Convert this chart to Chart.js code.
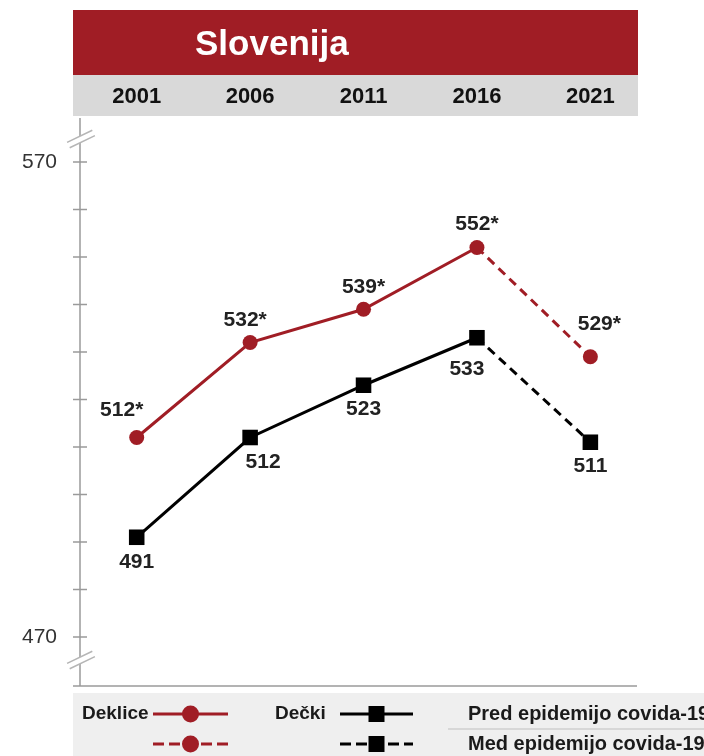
<!DOCTYPE html>
<html>
<head>
<meta charset="utf-8">
<script src="https://cdn.jsdelivr.net/npm/chart.js@4.4.1/dist/chart.umd.min.js"></script>
<style>
  html, body { margin: 0; padding: 0; background: #fff; }
  #wrap { width: 704px; height: 756px; }
</style>
</head>
<body>
<div id="wrap"><canvas id="chart" width="704" height="756"></canvas></div>
<script>
const years = [2001, 2006, 2011, 2016, 2021];
const girls = [512, 532, 539, 552, 529];
const boys = [491, 512, 523, 533, 511];
const girlsLabels = ["512*", "532*", "539*", "552*", "529*"];
const boysLabels = ["491", "512", "523", "533", "511"];
const yTicks = [470, 480, 490, 500, 510, 520, 530, 540, 550, 560, 570];
const yTickShown = [470, 570];
const title = "Slovenija";
const legendGirls = "Deklice";
const legendBoys = "Dečki";
const legendBefore = "Pred epidemijo covida-19";
const legendDuring = "Med epidemijo covida-19";

/* label nudges (style only) */
const girlsNudge = [[-15, -27], [-5, -22], [0, -22], [0, -23], [9, -33]];
const boysNudge = [[0, 25], [13, 25], [0, 24], [-10, 31], [0, 24]];

const RED = "#a01d25";
const AXIS = "#9a9a9a";
const FONT = "'Liberation Sans', Arial, sans-serif";
const DASH = [9, 6];

function drawBreak(ctx, cx, cy) {
  ctx.save();
  ctx.translate(cx, cy);
  ctx.rotate(-0.45);
  ctx.fillStyle = "#fff";
  ctx.fillRect(-14, -3, 28, 6);
  ctx.strokeStyle = "#b5b5b5";
  ctx.lineWidth = 1.5;
  ctx.beginPath();
  ctx.moveTo(-14, -3); ctx.lineTo(14, -3);
  ctx.moveTo(-14, 3); ctx.lineTo(14, 3);
  ctx.stroke();
  ctx.restore();
}

/* ====================
   BACKGROUND BANDS + AXIS
==================== */
const frame = {
  id: "frame",
  beforeDraw(chart) {
    const ctx = chart.ctx;
    ctx.save();
    ctx.fillStyle = "#fff";
    ctx.fillRect(0, 0, chart.width, chart.height);
    ctx.fillStyle = RED;
    ctx.fillRect(73, 10, 565, 65);
    ctx.fillStyle = "#d9d9d9";
    ctx.fillRect(73, 75, 565, 41);
    ctx.fillStyle = "#efefef";
    ctx.fillRect(73, 693, 631, 63);

    ctx.fillStyle = "#fff";
    ctx.font = "bold 35px " + FONT;
    ctx.textBaseline = "middle";
    ctx.textAlign = "left";
    ctx.fillText(title, 195, 45);
    ctx.restore();
  },
  beforeDatasetsDraw(chart) {
    const ctx = chart.ctx;
    const y = chart.scales.y;
    const x0 = y.right;
    ctx.save();
    ctx.strokeStyle = AXIS;
    ctx.lineWidth = 1.5;
    ctx.beginPath();
    ctx.moveTo(x0, 118);
    ctx.lineTo(x0, 686);
    yTicks.forEach(v => {
      const py = y.getPixelForValue(v);
      ctx.moveTo(x0 - 7, py);
      ctx.lineTo(x0 + 7, py);
    });
    ctx.moveTo(x0 - 7, 686);
    ctx.lineTo(637, 686);
    ctx.stroke();
    drawBreak(ctx, x0 + 1, 139);
    drawBreak(ctx, x0 + 1, 660);
    ctx.restore();
  }
};

/* ====================
   VALUE LABELS
==================== */
const valueLabels = {
  id: "valueLabels",
  afterDatasetsDraw(chart) {
    const ctx = chart.ctx;
    ctx.save();
    ctx.font = "bold 21px " + FONT;
    ctx.fillStyle = "#222";
    ctx.textAlign = "center";
    ctx.textBaseline = "middle";
    const sets = [[girlsLabels, girlsNudge], [boysLabels, boysNudge]];
    sets.forEach(([labels, nudge], di) => {
      chart.getDatasetMeta(di).data.forEach((pt, i) => {
        ctx.fillText(labels[i], pt.x + nudge[i][0], pt.y + nudge[i][1]);
      });
    });
    ctx.restore();
  }
};

/* ====================
   LEGEND
==================== */
function legendMarker(ctx, x1, x2, yy, color, dashed, shape) {
  ctx.save();
  ctx.strokeStyle = color;
  ctx.fillStyle = color;
  ctx.lineWidth = 3;
  ctx.setLineDash(dashed ? [11, 5] : []);
  ctx.beginPath();
  ctx.moveTo(x1, yy);
  ctx.lineTo(x2, yy);
  ctx.stroke();
  const cx = (x1 + x2) / 2;
  if (shape === "circle") {
    ctx.beginPath();
    ctx.arc(cx, yy, 8.5, 0, Math.PI * 2);
    ctx.fill();
  } else {
    ctx.fillRect(cx - 8, yy - 8, 16, 16);
  }
  ctx.restore();
}

const legendBox = {
  id: "legendBox",
  afterDraw(chart) {
    const ctx = chart.ctx;
    ctx.save();
    ctx.fillStyle = "#1a1a1a";
    ctx.textBaseline = "middle";
    ctx.textAlign = "left";
    ctx.font = "bold 19px " + FONT;
    ctx.fillText(legendGirls, 82, 714);
    ctx.fillText(legendBoys, 275, 714);
    ctx.font = "bold 20px " + FONT;
    ctx.fillText(legendBefore, 468, 714);
    ctx.fillText(legendDuring, 468, 744);
    ctx.strokeStyle = "#cfcfcf";
    ctx.lineWidth = 1.5;
    ctx.beginPath();
    ctx.moveTo(448, 729);
    ctx.lineTo(704, 729);
    ctx.stroke();
    ctx.restore();

    legendMarker(ctx, 153, 228, 714, RED, false, "circle");
    legendMarker(ctx, 153, 228, 744, RED, true, "circle");
    legendMarker(ctx, 340, 413, 714, "#000", false, "rect");
    legendMarker(ctx, 340, 413, 744, "#000", true, "rect");
  }
};

const dashLast = ctx => ctx.p1DataIndex === years.length - 1 ? DASH : undefined;

const chart = new Chart(document.getElementById("chart"), {
  type: "line",
  data: {
    datasets: [
      {
        label: legendGirls,
        data: years.map((yr, i) => ({ x: yr, y: girls[i] })),
        borderColor: RED,
        backgroundColor: RED,
        borderWidth: 3,
        pointStyle: "circle",
        pointRadius: 7.5,
        pointBorderWidth: 0,
        pointBackgroundColor: RED,
        segment: { borderDash: dashLast }
      },
      {
        label: legendBoys,
        data: years.map((yr, i) => ({ x: yr, y: boys[i] })),
        borderColor: "#000",
        backgroundColor: "#000",
        borderWidth: 3,
        pointStyle: "rect",
        pointRadius: 11,
        pointBorderWidth: 0,
        pointBackgroundColor: "#000",
        segment: { borderDash: dashLast }
      }
    ]
  },
  options: {
    responsive: false,
    animation: false,
    layout: { padding: { top: 0, left: 0, right: 66, bottom: 71 } },
    plugins: {
      legend: { display: false },
      tooltip: { enabled: false },
      title: { display: false }
    },
    scales: {
      x: {
        type: "linear",
        position: "top",
        min: 1998.5,
        max: 2023.1,
        afterBuildTicks: s => { s.ticks = years.map(v => ({ value: v })); },
        afterFit: s => { s.height = 133; },
        grid: { display: false, drawTicks: false },
        border: { display: false },
        ticks: {
          padding: 23,
          color: "#111",
          font: { family: FONT, size: 22, weight: "bold" },
          callback: v => String(v),
          maxRotation: 0
        }
      },
      y: {
        min: 459.9,
        max: 576.1,
        afterBuildTicks: s => { s.ticks = yTicks.map(v => ({ value: v })); },
        afterFit: s => { s.width = 80; },
        grid: { display: false, drawTicks: false },
        border: { display: false },
        ticks: {
          padding: 23,
          color: "#333",
          font: { family: FONT, size: 21 },
          callback: v => (yTickShown.includes(v) ? String(v) : "")
        }
      }
    }
  },
  plugins: [frame, valueLabels, legendBox]
});
</script>
</body>
</html>
